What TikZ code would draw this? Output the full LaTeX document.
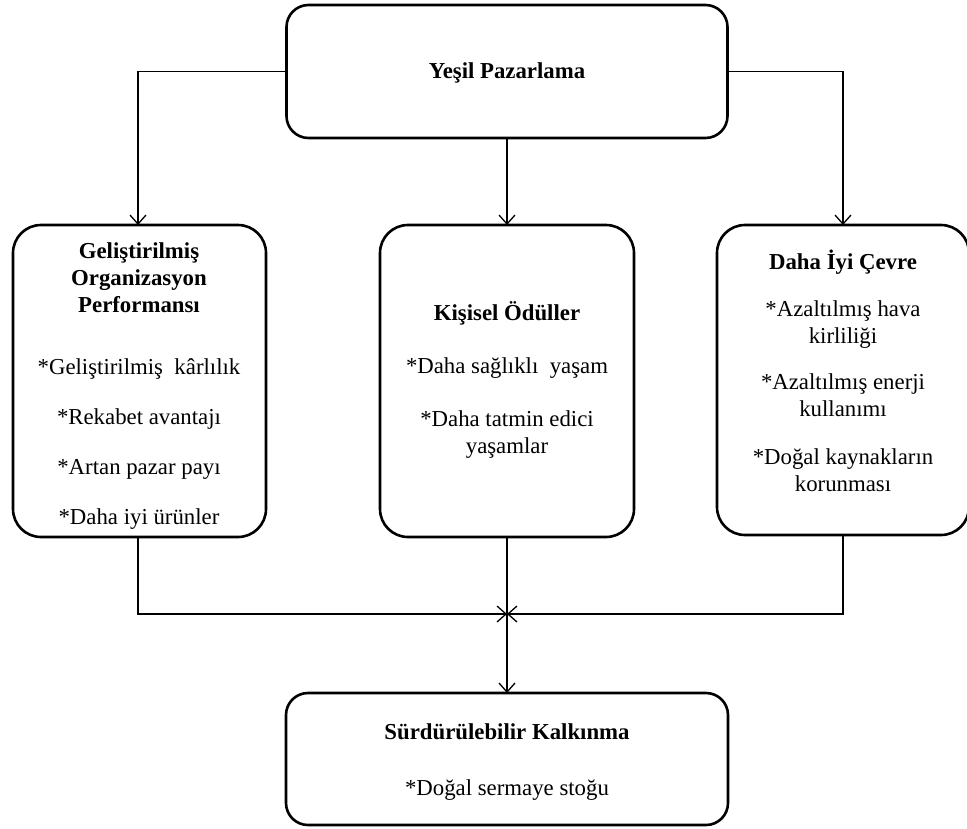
\documentclass[tikz,border=0pt]{standalone}
\usepackage{fontspec}
\setmainfont{Liberation Serif}
\usetikzlibrary{arrows.meta}
\begin{document}
\begin{tikzpicture}[x=1pt,y=-1pt,
  box/.style={draw,line width=2.6pt,rounded corners=#1,inner sep=0pt,outer sep=0pt},
  box/.default=28pt,
  txt/.style={align=center,inner sep=0pt,font=\fontsize{22.8pt}{27pt}\selectfont},
  arr/.style={line width=1.3pt,-{Straight Barb[length=9pt,width=16pt,line width=1.3pt]}},
  ln/.style={line width=1.3pt}]
\useasboundingbox (0,0) rectangle (967,828);
% boxes
\node[box=22pt,minimum width=441pt,minimum height=133pt] (top) at (507,71.5) {};
\node[box,minimum width=253pt,minimum height=312pt] (left) at (139.5,381) {};
\node[box,minimum width=254pt,minimum height=312pt] (mid) at (507,381) {};
\node[box,minimum width=252pt,minimum height=310pt] (right) at (843,380) {};
\node[box=22pt,minimum width=442pt,minimum height=132pt] (bot) at (507,759) {};
% texts
\node[txt] (ttop) at (507,73) {\textbf{Yeşil Pazarlama}};
\node[txt] (tleft) at (139,386) {\textbf{Geliştirilmiş}\\\textbf{Organizasyon}\\\textbf{Performansı}\\[35pt]
  *Geliştirilmiş\ \ kârlılık\\[23pt]*Rekabet avantajı\\[23pt]*Artan pazar payı\\[23pt]*Daha iyi ürünler};
\node[txt] (tmid) at (507,380) {\textbf{Kişisel Ödüller}\\[26pt]*Daha sağlıklı\ \ yaşam\\[26pt]*Daha tatmin edici\\yaşamlar};
\node[txt] (tright) at (843,371) {\textbf{Daha İyi Çevre}\\[20pt]*Azaltılmış hava\\kirliliği\\[19pt]*Azaltılmış enerji\\kullanımı\\[21pt]*Doğal kaynakların\\korunması};
\node[txt] (tbot) at (507,762) {\textbf{Sürdürülebilir Kalkınma}\\[29pt]*Doğal sermaye stoğu};
% connectors
\coordinate (j) at (507,614);
\draw[arr] (top.west) -| ([xshift=-1.5pt]left.north);
\draw[arr] (top.east) -| (right.north);
\draw[arr] (top.south) -- (mid.north);
\draw[arr] ([xshift=-1.5pt]left.south) |- (j);
\draw[arr] (right.south) |- (j);
\draw[arr] (mid.south) -- (bot.north);
\end{tikzpicture}
\end{document}
